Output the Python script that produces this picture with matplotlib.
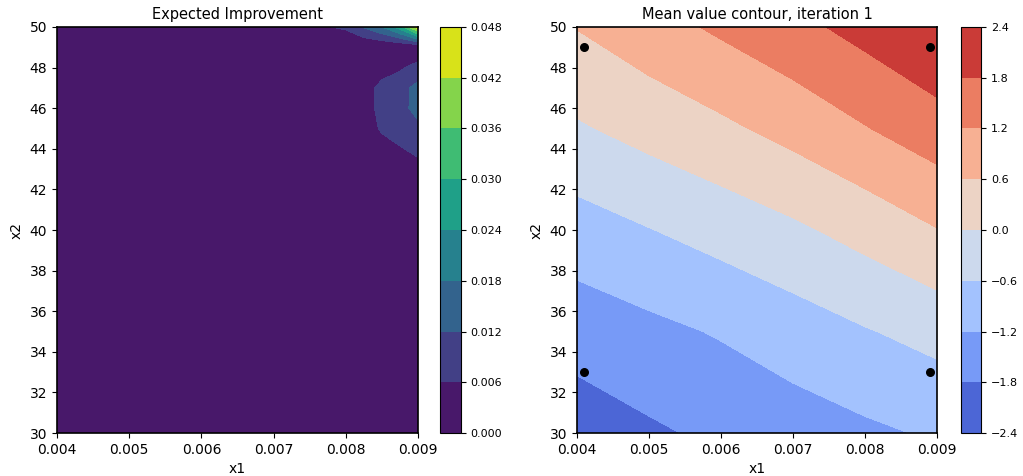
import numpy as np
import matplotlib
matplotlib.use("Agg")
import matplotlib.pyplot as plt

# grid for expected improvement (only refined near the upper right corner)
ei_x = [0.004, 0.0075, 0.00775, 0.008, 0.00825, 0.0085, 0.00875, 0.009]
ei_y = [30, 43, 44, 45, 46, 47, 48, 49, 50]
ei_vals = [
    [0, 0, 0, 0, 0, 0, 0, 0],
    [0, 0, 0, 0, 0, 0.0005, 0.002, 0.004],
    [0, 0, 0, 0, 0.001, 0.003, 0.0055, 0.0075],
    [0, 0, 0, 0, 0.002, 0.007, 0.009, 0.011],
    [0, 0, 0, 0, 0.002, 0.0087, 0.0105, 0.0135],
    [0, 0, 0, 0, 0.002, 0.0087, 0.0104, 0.0135],
    [0, 0, 0, 0, 0.001, 0.002, 0.005, 0.0085],
    [0, 0, 0, 0, 0, 0, 0, 0],
    [0, 0.002, 0.0058, 0.007, 0.0125, 0.018, 0.027, 0.046],
]

# grid for the mean value
mean_x = [0.004, 0.005, 0.006, 0.007, 0.008, 0.009]
mean_y = [30, 35, 40, 45, 50]
mean_vals = [
    [-2.14, -1.89, -1.68, -1.49, -1.31, -1.13],
    [-1.54, -1.35, -1.15, -0.90, -0.64, -0.40],
    [-0.87, -0.62, -0.37, -0.11, 0.21, 0.58],
    [-0.07, 0.21, 0.48, 0.80, 1.17, 1.54],
    [0.62, 0.96, 1.30, 1.63, 2.00, 2.39],
]

# sampled points
pts_x1 = [0.0041, 0.0041, 0.0089, 0.0089]
pts_x2 = [33, 49, 33, 49]

ei_levels = [0.0, 0.006, 0.012, 0.018, 0.024, 0.030, 0.036, 0.042, 0.048]
mean_levels = [-2.4, -1.8, -1.2, -0.6, 0.0, 0.6, 1.2, 1.8, 2.4]
xticks = [0.004, 0.005, 0.006, 0.007, 0.008, 0.009]
yticks = [30, 32, 34, 36, 38, 40, 42, 44, 46, 48, 50]

fig = plt.figure(figsize=(10.23, 4.76), dpi=100)
ax1 = fig.add_axes([0.0557, 0.0903, 0.3529, 0.853])
cax1 = fig.add_axes([0.4301, 0.0903, 0.0205, 0.853])
ax2 = fig.add_axes([0.564, 0.0903, 0.352, 0.853])
cax2 = fig.add_axes([0.9394, 0.0903, 0.0196, 0.853])

cs1 = ax1.contourf(ei_x, ei_y, ei_vals, levels=ei_levels, cmap="viridis")
ax1.set_title("Expected Improvement", fontsize=10.5)
cb1 = fig.colorbar(cs1, cax=cax1, ticks=ei_levels)
cb1.ax.set_yticklabels(["%.3f" % v for v in ei_levels])

cs2 = ax2.contourf(mean_x, mean_y, mean_vals, levels=mean_levels, cmap="coolwarm")
ax2.scatter(pts_x1, pts_x2, color="black", s=30, zorder=3)
ax2.set_title("Mean value contour, iteration 1", fontsize=10.5)
cb2 = fig.colorbar(cs2, cax=cax2, ticks=mean_levels)
cb2.ax.set_yticklabels([("%.1f" % v).replace("-", "\u2212") for v in mean_levels])

for ax in (ax1, ax2):
    ax.set_xlabel("x1", fontsize=10)
    ax.set_ylabel("x2", fontsize=10)
    ax.set_xlim(0.004, 0.009)
    ax.set_ylim(30, 50)
    ax.set_xticks(xticks)
    ax.set_yticks(yticks)
    for sp in ax.spines.values():
        sp.set_linewidth(1.2)

for cb in (cb1, cb2):
    cb.ax.tick_params(labelsize=8)

fig.savefig("out.png", dpi=100)
